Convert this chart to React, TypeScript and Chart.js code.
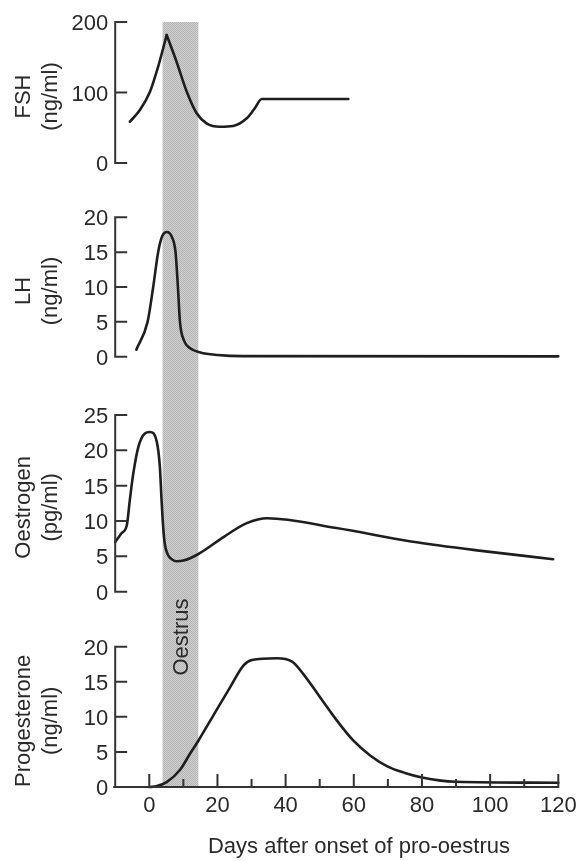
import React, { useEffect, useRef } from "react";
import { Chart, registerables } from "chart.js";

Chart.register(...registerables);

// ---------------- data ----------------
const xTickValues = [0, 20, 40, 60, 80, 100, 120];
const xMinorTickValues = [10, 30, 50, 70, 90, 110];
const xAxisTitle = "Days after onset of pro-oestrus";
const oestrusLabel = "Oestrus";
const oestrusStart = 3.9;
const oestrusEnd = 14.4;

const fshTicks = [0, 100, 200];
const lhTicks = [0, 5, 10, 15, 20];
const oeTicks = [0, 5, 10, 15, 20, 25];
const progTicks = [0, 5, 10, 15, 20];

const fshTitle = ["FSH", "(ng/ml)"];
const lhTitle = ["LH", "(ng/ml)"];
const oeTitle = ["Oestrogen", "(pg/ml)"];
const progTitle = ["Progesterone", "(ng/ml)"];

// FSH rises to a sharp peak, then falls (two pieces meeting at the peak)
const fshRiseDays = [-5.7, -2.7, 0.2, 2.6, 5.1];
const fshRiseValues = [58.6, 75.4, 101, 136.6, 181.6];
const fshFallDays = [5.1, 8.0, 11.0, 13.9, 16.8, 20.7, 24.6, 28.6, 30.8, 33.0, 58.4];
const fshFallValues = [181.6, 143.7, 101, 70.5, 56.3, 51.5, 52.5, 63.4, 76.5, 90.8, 90.8];

const lhDays = [-3.8, -0.5, 1.15, 2.6, 3.8, 5.2, 6.6, 7.7, 8.4, 9.0, 10.2, 12.0, 15.0, 20.0, 27.5, 120];
const lhValues = [1.0, 5.0, 10.0, 15.0, 17.3, 17.9, 17.2, 15.0, 10.0, 5.0, 2.3, 1.2, 0.6, 0.25, 0.08, 0.05];

const oeDays = [-10, -8.1, -6.6, -5.7, -4.7, -3.2, -1.3, 0.2, 2.2, 3.1, 3.6, 4.1, 4.6, 5.5, 6.6, 8.0, 10.0, 14.3, 22, 28.6, 34.6, 54.9, 76.8, 98.7, 118.5];
const oeValues = [7.0, 8.3, 9.4, 13.0, 16.7, 20.5, 22.4, 22.6, 21.2, 17.7, 13.0, 9.0, 6.6, 5.2, 4.6, 4.3, 4.4, 5.3, 7.8, 9.7, 10.4, 9.0, 7.1, 5.7, 4.6];

const progDays = [0, 2, 5.1, 9.1, 11.9, 14.4, 18.8, 23.7, 27.6, 30.1, 37.4, 41.8, 45.2, 50.1, 55.0, 59.9, 64.8, 70, 75, 80, 85, 90, 120];
const progValues = [0, 0.1, 0.7, 2.5, 4.7, 6.6, 10.2, 14.2, 17.3, 18.1, 18.35, 17.9, 16.1, 12.8, 9.5, 6.6, 4.5, 2.9, 2.0, 1.35, 0.95, 0.75, 0.6];

// ---------------- styles ----------------
const FONT_FAMILY = "'Liberation Sans', Arial, Helvetica, sans-serif";
const TEXT_COLOR = "#2a2a2a";
const LINE_COLOR = "#1e1e1e";
const AXIS_COLOR = "#333333";

const panelDefs = [
  { id: "yFSH", ticks: fshTicks, title: fshTitle },
  { id: "yLH", ticks: lhTicks, title: lhTitle },
  { id: "yOe", ticks: oeTicks, title: oeTitle },
  { id: "yProg", ticks: progTicks, title: progTitle },
];

function makePattern(): CanvasPattern | string {
  const c = document.createElement("canvas");
  c.width = 2;
  c.height = 2;
  const g = c.getContext("2d");
  if (!g) return "#c4c4c4";
  g.fillStyle = "#d0d0d0";
  g.fillRect(0, 0, 2, 2);
  g.fillStyle = "#b4b4b4";
  g.fillRect(0, 0, 1, 1);
  g.fillRect(1, 1, 1, 1);
  const p = g.createPattern(c, "repeat");
  return p || "#c4c4c4";
}

export default function App() {
  const ref = useRef<HTMLCanvasElement>(null);

  useEffect(() => {
    const canvas = ref.current;
    if (!canvas) return;
    const pattern = makePattern();

    const pts = (xs: number[], ys: number[]) => xs.map((x, i) => ({ x, y: ys[i] }));
    const line = (data: any[], yAxisID: string) => ({
      data,
      yAxisID,
      borderColor: LINE_COLOR,
      borderWidth: 2.6,
      pointRadius: 0,
      pointHoverRadius: 0,
      cubicInterpolationMode: "monotone" as const,
      fill: false,
      clip: false as any,
      borderCapStyle: "round" as const,
      borderJoinStyle: "round" as const,
    });

    const tickFont = { family: FONT_FAMILY, size: 22 };

    const yScale = (ticks: number[], min: number, max: number, weight: number) => ({
      type: "linear" as const,
      position: "left" as const,
      stack: "panels",
      stackWeight: weight,
      min,
      max,
      grid: { display: false, drawTicks: false },
      border: { display: false },
      ticks: { font: tickFont, color: TEXT_COLOR, padding: 7, labelOffset: 2, autoSkip: false },
      afterBuildTicks: (s: any) => {
        s.ticks = ticks.map((v) => ({ value: v }));
      },
      afterFit: (s: any) => {
        s.width = 115.2;
        s.paddingTop = 0;
        s.paddingBottom = 0;
      },
    });

    const decorPlugin = {
      id: "decor",
      beforeDatasetsDraw(chart: any) {
        const { ctx, chartArea, scales } = chart;
        const xs = scales.x;
        const x0 = xs.getPixelForValue(oestrusStart);
        const x1 = xs.getPixelForValue(oestrusEnd);
        const yTop = scales.yFSH.getPixelForValue(fshTicks[fshTicks.length - 1]);
        ctx.save();
        ctx.fillStyle = pattern as any;
        ctx.fillRect(x0, yTop, x1 - x0, chartArea.bottom - yTop);
        // Oestrus label, rotated
        ctx.fillStyle = TEXT_COLOR;
        ctx.font = `22px ${FONT_FAMILY}`;
        ctx.textAlign = "center";
        ctx.textBaseline = "alphabetic";
        ctx.translate((x0 + x1) / 2 + 8, 637);
        ctx.rotate(-Math.PI / 2);
        ctx.fillText(oestrusLabel, 0, 0);
        ctx.restore();
      },
      afterDraw(chart: any) {
        const { ctx, chartArea, scales } = chart;
        const xA = chartArea.left;
        ctx.save();
        ctx.strokeStyle = AXIS_COLOR;
        ctx.lineWidth = 2;
        ctx.lineCap = "butt";
        // y axes with inward ticks
        for (const p of panelDefs) {
          const s = scales[p.id];
          const yT = s.getPixelForValue(p.ticks[p.ticks.length - 1]);
          const yB = s.getPixelForValue(p.ticks[0]);
          ctx.beginPath();
          ctx.moveTo(xA, yT - 1);
          ctx.lineTo(xA, yB + 1);
          for (const t of p.ticks) {
            const y = s.getPixelForValue(t);
            ctx.moveTo(xA, y);
            ctx.lineTo(xA + 12, y);
          }
          ctx.stroke();
        }
        // x axis with inward ticks
        const xs = scales.x;
        const yB = chartArea.bottom;
        ctx.beginPath();
        ctx.moveTo(xA - 2, yB);
        ctx.lineTo(xs.getPixelForValue(xTickValues[xTickValues.length - 1]) + 1, yB);
        for (const t of xTickValues) {
          const x = xs.getPixelForValue(t);
          ctx.moveTo(x, yB);
          ctx.lineTo(x, yB - 13);
        }
        for (const t of xMinorTickValues) {
          const x = xs.getPixelForValue(t);
          ctx.moveTo(x, yB);
          ctx.lineTo(x, yB - 8);
        }
        ctx.stroke();

        // axis titles
        ctx.fillStyle = TEXT_COLOR;
        ctx.font = `22px ${FONT_FAMILY}`;
        ctx.textAlign = "center";
        ctx.textBaseline = "alphabetic";
        for (const p of panelDefs) {
          const s = scales[p.id];
          const yc =
            (s.getPixelForValue(p.ticks[0]) + s.getPixelForValue(p.ticks[p.ticks.length - 1])) / 2 + 4;
          const baselines = [30, 57];
          p.title.forEach((txt, i) => {
            ctx.save();
            ctx.translate(baselines[i], yc);
            ctx.rotate(-Math.PI / 2);
            ctx.fillText(txt, 0, 0);
            ctx.restore();
          });
        }
        // x title
        ctx.fillText(xAxisTitle, 359, 853);
        ctx.restore();
      },
    };

    const chart = new Chart(canvas, {
      type: "line",
      data: {
        datasets: [
          line(pts(fshRiseDays, fshRiseValues), "yFSH"),
          line(pts(fshFallDays, fshFallValues), "yFSH"),
          line(pts(lhDays, lhValues), "yLH"),
          line(pts(oeDays, oeValues), "yOe"),
          line(pts(progDays, progValues), "yProg"),
        ] as any,
      },
      options: {
        responsive: false,
        animation: false,
        devicePixelRatio: 1,
        events: [],
        layout: { padding: { top: 14, right: 27.7, bottom: 0, left: 0 } },
        plugins: { legend: { display: false }, tooltip: { enabled: false } },
        scales: {
          x: {
            type: "linear",
            min: -10,
            max: 120,
            grid: { display: false, drawTicks: false },
            border: { display: false },
            ticks: { font: tickFont, color: TEXT_COLOR, padding: 6, autoSkip: false, maxRotation: 0 },
            afterBuildTicks: (s: any) => {
              s.ticks = xTickValues.map((v) => ({ value: v }));
            },
            afterFit: (s: any) => {
              s.height = 74;
              s.paddingLeft = 0;
              s.paddingRight = 0;
            },
          },
          yProg: yScale(progTicks, 0, 23.949, 168),
          yOe: yScale(oeTicks, -3.862, 29.103, 233),
          yLH: yScale(lhTicks, -4.204, 23.917, 196),
          yFSH: yScale(fshTicks, -38.3, 211.35, 176),
        } as any,
      },
      plugins: [decorPlugin],
    });
    return () => chart.destroy();
  }, []);

  return (
    <div style={{ position: "absolute", left: 0, top: 0, width: 586, height: 861, background: "#fff" }}>
      <canvas ref={ref} width={586} height={861} style={{ display: "block" }} />
    </div>
  );
}
